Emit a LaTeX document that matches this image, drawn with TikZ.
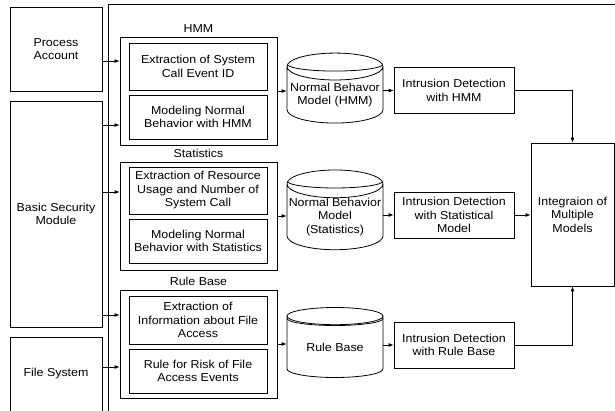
\documentclass[tikz,border=0pt]{standalone}
\usepackage{fontspec}
\setmainfont[FakeStretch=1.08]{Liberation Sans}
\usetikzlibrary{shapes.geometric,arrows.meta,positioning,calc}

\tikzset{
	txt/.style={font=\fontsize{11.5}{13.5}\selectfont},
	block/.style={draw, line width=0.8pt, align=center, inner sep=1pt, txt},
	group/.style={draw, line width=0.8pt, minimum width=157pt, minimum height=108pt},
	inner/.style={block, minimum width=138pt},
	grouptitle/.style={txt, inner sep=1pt},
	store/.style={cylinder, shape border rotate=90, draw, line width=0.8pt,
		aspect=0.3, minimum width=96pt, minimum height=70pt, inner sep=0pt,
		align=center, txt,
		path picture={
			\draw[line width=0.8pt] let \p1=($(path picture bounding box.north east)-(path picture bounding box.north west)$) in
				([yshift=-11pt]path picture bounding box.north west)
				arc[start angle=180, end angle=360, x radius=0.5*\x1, y radius=7pt];
		}},
	detect/.style={block, minimum width=120pt, minimum height=46pt},
	flow/.style={line width=0.8pt, -{Latex[length=5pt,width=4pt]}}
}

\begin{document}
\begin{tikzpicture}[x=1pt, y=-1pt]
	\useasboundingbox (0,0) rectangle (615,411);

	% outer frame
	\draw[line width=0.9pt] (108,411) -- (108,4) -- (615,4);

	% sources
	\node[block, minimum width=92pt, minimum height=84pt] (proc) at (56,49) {Process\\Account};
	\node[block, minimum width=92pt, minimum height=226pt] (bsm) at (56,214) {Basic Security\\Module};
	\node[block, minimum width=92pt, minimum height=74pt] (fsys) at (56,374) {File System};

	% HMM
	\node[group] (ghmm) at (198.5,91) {};
	\node[grouptitle, above=3pt of ghmm] (thmm) {HMM};
	\node[inner, minimum height=47pt] (hmmext) at (198,66.5) {Extraction of System\\Call Event ID};
	\node[inner, minimum height=44pt] (hmmmod) at (198,117) {Modeling Normal\\Behavior with HMM};

	% Statistics
	\node[group] (gstat) at (198.5,216) {};
	\node[grouptitle, above=3pt of gstat] (tstat) {Statistics};
	\node[inner, minimum height=47pt] (statext) at (198,190.5) {Extraction of Resource\\Usage and Number of\\System Call};
	\node[inner, minimum height=44pt] (statmod) at (198,241) {Modeling Normal\\Behavior with Statistics};

	% Rule Base
	\node[group] (grule) at (198.5,344) {};
	\node[grouptitle, above=3pt of grule] (trule) {Rule Base};
	\node[inner, minimum height=48pt] (ruleext) at (198,320) {Extraction of\\Information about File\\Access};
	\node[inner, minimum height=44pt] (rulerisk) at (198,371) {Rule for Risk of File\\Access Events};

	% models
	\node[store] (dbhmm) at (335,95) {Normal Behavor\\Model (HMM)};
	\node[store] (dbstat) at (335,217) {Normal Behavior\\Model\\(Statistics)};
	\node[store] (dbrule) at (335,347) {Rule Base};

	% detection
	\node[detect] (idhmm) at (454,90.5) {Intrusion Detection\\with HMM};
	\node[detect] (idstat) at (454,215) {Intrusion Detection\\with Statistical\\Model};
	\node[detect] (idrule) at (454,345) {Intrusion Detection\\with Rule Base};

	\node[block, minimum width=83pt, minimum height=143pt] (integ) at (572.5,214.5) {Integraion of\\Multiple\\Models};

	% inputs to the groups
	\draw[flow] (proc.east |- 0,61) -- (ghmm.west |- 0,61);
	\draw[flow] (bsm.east |- 0,125) -- (ghmm.west |- 0,125);
	\draw[flow] (bsm.east |- 0,192) -- (gstat.west |- 0,192);
	\draw[flow] (bsm.east |- 0,315) -- (grule.west |- 0,315);
	\draw[flow] (fsys.east |- 0,367) -- (grule.west |- 0,367);

	% groups to models to detection
	\draw[flow] (ghmm.east) -- (ghmm.east -| dbhmm.west);
	\draw[flow] (gstat.east) -- (gstat.east -| dbstat.west);
	\draw[flow] (grule.east) -- (grule.east -| dbrule.west);
	\draw[flow] (idhmm.west -| dbhmm.east) -- (idhmm.west);
	\draw[flow] (idstat.west -| dbstat.east) -- (idstat.west);
	\draw[flow] (idrule.west -| dbrule.east) -- (idrule.west);

	% integration
	\draw[flow] (idhmm.east) -| (integ.north);
	\draw[flow] (idstat.east) -- (idstat.east -| integ.west);
	\draw[flow] (idrule.east) -| (integ.south);
\end{tikzpicture}
\end{document}
